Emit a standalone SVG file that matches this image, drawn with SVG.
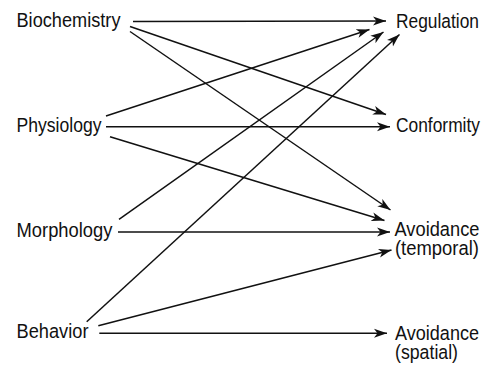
<svg xmlns="http://www.w3.org/2000/svg" width="487" height="366" viewBox="0 0 487 366">
<style>
text{font-family:"Liberation Sans",Arial,sans-serif;font-size:17.5px;fill:#111}
.c line{stroke:#111;stroke-width:1.5;fill:none;marker-end:url(#ah)}
</style>
<defs>
<marker id="ah" markerUnits="userSpaceOnUse" markerWidth="14" markerHeight="10" refX="13" refY="4.5" orient="auto" viewBox="0 0 14 9">
<path d="M0,0 L13,4.5 L0,9 L3.5,4.5 z" fill="#111"/>
</marker>
</defs>
<rect width="487" height="366" fill="#fff"/>
<g id="biochemistry" transform="translate(16.5,27) scale(1,1.114)"><text textLength="104" lengthAdjust="spacingAndGlyphs">Biochemistry</text></g>
<g id="physiology" transform="translate(16.5,131.5) scale(1,1.114)"><text textLength="85" lengthAdjust="spacingAndGlyphs">Physiology</text></g>
<g id="morphology" transform="translate(16.5,236.5) scale(1,1.114)"><text textLength="96" lengthAdjust="spacingAndGlyphs">Morphology</text></g>
<g id="behavior" transform="translate(16.5,338) scale(1,1.114)"><text textLength="72" lengthAdjust="spacingAndGlyphs">Behavior</text></g>
<g id="regulation" transform="translate(396,28) scale(1,1.114)"><text textLength="83" lengthAdjust="spacingAndGlyphs">Regulation</text></g>
<g id="conformity" transform="translate(396,131.5) scale(1,1.114)"><text textLength="84" lengthAdjust="spacingAndGlyphs">Conformity</text></g>
<g id="avoidance-temporal" transform="translate(394.5,235.5) scale(1,1.114)"><text><tspan x="0" y="0" textLength="85" lengthAdjust="spacingAndGlyphs">Avoidance</tspan><tspan x="0.5" y="17.95" textLength="84" lengthAdjust="spacingAndGlyphs">(temporal)</tspan></text></g>
<g id="avoidance-spatial" transform="translate(395,339.5) scale(1,1.114)"><text><tspan x="0" y="0" textLength="84" lengthAdjust="spacingAndGlyphs">Avoidance</tspan><tspan x="0" y="17.95" textLength="63" lengthAdjust="spacingAndGlyphs">(spatial)</tspan></text></g>
<g id="connectors" class="c">
<line x1="133" y1="21.5" x2="386" y2="21"/>
<line x1="130" y1="26.5" x2="386" y2="114.5"/>
<line x1="130" y1="31.5" x2="390.5" y2="210"/>
<line x1="106" y1="116" x2="369.5" y2="29.5"/>
<line x1="106" y1="126.7" x2="390" y2="126.7"/>
<line x1="110" y1="136.7" x2="384.5" y2="220.5"/>
<line x1="119" y1="219.3" x2="383.5" y2="32"/>
<line x1="118" y1="232" x2="390" y2="232"/>
<line x1="86.7" y1="321.7" x2="399.5" y2="34.5"/>
<line x1="98.3" y1="325.7" x2="391.5" y2="250"/>
<line x1="99.3" y1="333.3" x2="387" y2="333.3"/>
</g>
</svg>
